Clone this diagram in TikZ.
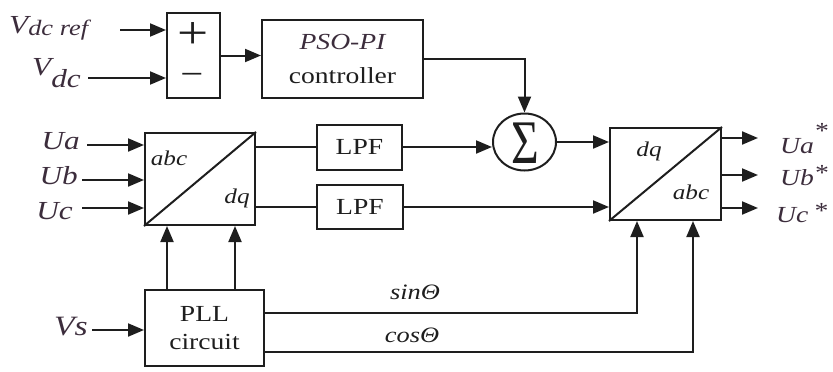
\documentclass[tikz,border=0pt]{standalone}
\usepackage{fontspec}
\usepackage{graphicx}
\setmainfont{Liberation Serif}[FakeStretch=1.2]
\usetikzlibrary{arrows.meta,shapes.geometric}
\definecolor{lbl}{RGB}{60,45,60}
\definecolor{ln}{RGB}{30,30,30}
\tikzset{
  blk/.style={draw=ln, line width=2pt, inner sep=0pt, align=center, text=ln, font=\fontsize{23}{28}\selectfont},
  arr/.style={line width=2pt, draw=ln, -{Triangle[length=16pt,width=13pt]}},
  wire/.style={line width=2pt, draw=ln},
  lab/.style={inner sep=0pt, text=lbl, font=\fontsize{23}{25}\selectfont\itshape},
  bigl/.style={lab, font=\fontsize{26}{28}\selectfont\itshape},
  sml/.style={inner sep=0pt, text=ln, font=\fontsize{21}{23}\selectfont\itshape}
}
\begin{document}
\begin{tikzpicture}[x=1pt,y=-1pt]
\useasboundingbox (0,0) rectangle (833,372);
% ---- top row
\node[blk, minimum width=53pt, minimum height=85pt] (diff) at (193.5,55.5) {};
\node[inner sep=0pt, text=ln, font=\fontsize{46}{46}\selectfont] (plus) at (193,36) {+};
\node[inner sep=0pt, text=ln, font=\fontsize{34}{34}\selectfont] (minus) at (192,79) {−};
\node[blk, minimum width=161pt, minimum height=78pt, font=\fontsize{23}{34}\selectfont] (pso) at (342.5,59) {\textcolor{lbl}{\itshape PSO-PI}\\controller};
\node[bigl, anchor=base west] (vref) at (9,33) {V\raisebox{-2pt}{\fontsize{22}{22}\selectfont dc ref}};
\node[bigl, anchor=base west] (vdc) at (32,75) {V\raisebox{-12pt}{\fontsize{26}{26}\selectfont dc}};
\coordinate (vrefs) at (120,30);
\coordinate (vdcs) at (88,78);
\draw[arr] (vrefs) -- (vrefs -| diff.west);
\draw[arr] (vdcs) -- (vdcs -| diff.west);
\draw[arr] (diff.east) -- (diff.east -| pso.west);
% ---- middle row
\node[blk, minimum width=110pt, minimum height=92pt] (abc) at (200,179) {};
\draw[wire] (abc.south west) -- (abc.north east);
\node[sml] (abcl1) at (169,158) {abc};
\node[sml] (abcl2) at (237,198) {dq};
\node[blk, minimum width=85pt, minimum height=45pt] (lpf1) at (359.5,147) {LPF};
\node[blk, minimum width=86pt, minimum height=44pt] (lpf2) at (360,207) {LPF};
\node[draw=ln, line width=2pt, ellipse, minimum width=63pt, minimum height=57pt, inner sep=0pt] (sum) at (524.5,142) {};
\node[inner sep=0pt, text=ln] (sig) at (525,143) {\scalebox{0.64}[1]{\fontsize{62}{62}\selectfont Σ}};
\node[blk, minimum width=111pt, minimum height=92pt] (dq) at (665.5,174) {};
\draw[wire] (dq.south west) -- (dq.north east);
\node[sml] (dql1) at (649,151) {dq};
\node[sml] (dql2) at (691,192) {abc};
% inputs
\node[bigl, anchor=east] (ua) at (80,141) {Ua};
\node[bigl, anchor=east] (ub) at (78,176) {Ub};
\node[bigl, anchor=east] (uc) at (73,211) {Uc};
\coordinate (uas) at (87,145);
\coordinate (ubs) at (82,180);
\coordinate (ucs) at (82,208);
\draw[arr] (uas) -- (uas -| abc.west);
\draw[arr] (ubs) -- (ubs -| abc.west);
\draw[arr] (ucs) -- (ucs -| abc.west);
% links
\draw[arr] (pso.east) -| (sum.north);
\draw[wire] (lpf1.west -| abc.east) -- (lpf1.west);
\draw[wire] (lpf2.west -| abc.east) -- (lpf2.west);
\draw[arr] (lpf1.east) -- (lpf1.east -| sum.west);
\draw[arr] (sum.east) -- (sum.east -| dq.west);
\draw[arr] (lpf2.east) -- (lpf2.east -| dq.west);
% outputs
\coordinate (oa) at (758,138);
\coordinate (ob) at (758,175);
\coordinate (oc) at (758,208);
\draw[arr] (oa -| dq.east) -- (oa);
\draw[arr] (ob -| dq.east) -- (ob);
\draw[arr] (oc -| dq.east) -- (oc);
\node[lab, anchor=base west] (uao) at (780,153) {Ua\raisebox{15pt}{*}};
\node[lab, anchor=base west] (ubo) at (780,185) {Ub\raisebox{5pt}{*}};
\node[lab, anchor=base west] (uco) at (776,222) {Uc\hspace{5pt}\raisebox{4pt}{*}};
% ---- bottom
\node[blk, minimum width=119pt, minimum height=76pt] (pll) at (204.5,328) {PLL\\circuit};
\node[bigl, anchor=east, font=\fontsize{28}{30}\selectfont\itshape] (vs) at (88,327) {Vs};
\coordinate (vss) at (92,330);
\draw[arr] (vss) -- (vss -| pll.west);
\draw[arr] ([xshift=-37.5pt]pll.north) -- ([xshift=-37.5pt]pll.north |- abc.south);
\draw[arr] ([xshift=30.5pt]pll.north) -- ([xshift=30.5pt]pll.north |- abc.south);
\draw[arr] ([yshift=15pt]pll.east) -| ([xshift=-28.5pt]dq.south);
\draw[arr] ([yshift=-24pt]pll.east) -| ([xshift=27.5pt]dq.south);
\node[sml, font=\fontsize{22}{24}\selectfont\itshape] (sinl) at (415,292) {sinΘ};
\node[sml, font=\fontsize{22}{24}\selectfont\itshape] (cosl) at (412,335) {cosΘ};
\end{tikzpicture}
\end{document}
